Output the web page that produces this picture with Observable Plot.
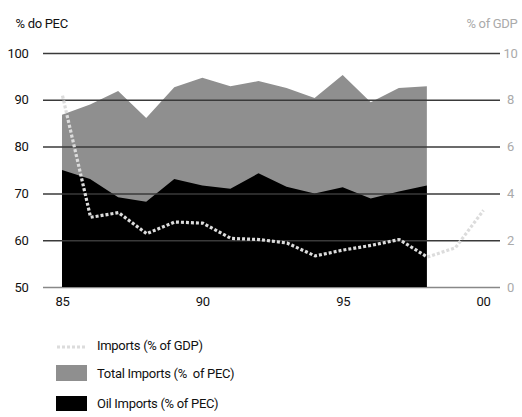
<!DOCTYPE html>
<html><head><meta charset="utf-8">
<script src="https://cdn.jsdelivr.net/npm/d3@7"></script>
<script src="https://cdn.jsdelivr.net/npm/@observablehq/plot@0.6"></script>
<style>
body{margin:0;background:#fff;font-family:Roboto,"Liberation Sans",sans-serif;}
#wrap{position:relative;width:522px;height:417px;}
#chart{position:absolute;left:0;top:0;}
#chart svg text{letter-spacing:-0.3px;}
.leg{position:absolute;left:0;font-size:13px;color:#111;letter-spacing:-0.3px;}
.leg span{position:absolute;left:97px;white-space:pre;line-height:16px;}
.sw{position:absolute;left:56px;width:31px;}
</style></head>
<body>
<div id="wrap">
<div id="chart"></div>
<div class="leg" style="top:337px"><svg class="sw" width="31" height="20" style="top:0"><line x1="1" x2="30" y1="10" y2="10" stroke="#dcdcdc" stroke-width="3" stroke-dasharray="3,2"/></svg><span style="top:1px">Imports (% of GDP)</span></div>
<div class="leg" style="top:365px"><div class="sw" style="top:0;height:16px;background:#8f8f8f"></div><span style="top:1px">Total Imports (%  of PEC)</span></div>
<div class="leg" style="top:396px"><div class="sw" style="top:0;height:15px;background:#000"></div><span style="top:0px">Oil Imports (% of PEC)</span></div>
</div>
<script>
const years = [1985,1986,1987,1988,1989,1990,1991,1992,1993,1994,1995,1996,1997,1998];
const totalImports = [86.8,89.0,91.9,86.1,92.7,94.7,92.9,94.0,92.5,90.4,95.3,89.5,92.5,92.9];
const oilImports = [75.0,73.1,69.2,68.2,73.1,71.7,71.0,74.3,71.4,70.0,71.3,68.9,70.4,71.7];
const gdpYears = [1985,1986,1987,1988,1989,1990,1991,1992,1993,1994,1995,1996,1997,1998,1999,2000];
const gdpImports = [8.2,3.0,3.2,2.3,2.8,2.75,2.1,2.05,1.9,1.35,1.6,1.8,2.05,1.3,1.7,3.3];
const leftTicks = [50,60,70,80,90,100];
const xTicks = [1985,1990,1995,2000];

const pec = years.map((y,i)=>({year:y,total:totalImports[i],oil:oilImports[i]}));
const gdp = gdpYears.map((y,i)=>({year:y,v:gdpImports[i]}));
const toLeft = v => 50 + v*5;

const font = 'Roboto,"Liberation Sans",sans-serif';
const chart = Plot.plot({
  width:522, height:315,
  marginLeft:43, marginRight:22, marginTop:53, marginBottom:28,
  style:{fontFamily:font,fontSize:"13px",background:"#fff",color:"#111"},
  x:{domain:[1984.323,2000.606]},
  y:{domain:[50,100]},
  marks:[
    Plot.ruleY([50],{stroke:"#888",strokeWidth:1.5}),
    Plot.areaY(pec,{x:"year",y1:50,y2:"total",fill:"#8f8f8f"}),
    Plot.areaY(pec,{x:"year",y1:50,y2:"oil",fill:"#000"}),
    Plot.ruleY(leftTicks.slice(1),{stroke:"#3a3a3a",strokeWidth:1.5}),
    Plot.lineY(gdp,{x:"year",y:d=>toLeft(d.v),stroke:"#dcdcdc",strokeWidth:3.2,strokeDasharray:"3,2",strokeLinecap:"butt",strokeLinejoin:"miter"}),
    Plot.axisY(leftTicks,{anchor:"left",tickSize:0,tickPadding:15,label:null,fill:"#111"}),
    Plot.axisY(leftTicks,{anchor:"right",tickSize:0,tickPadding:10,textAnchor:"middle",label:null,fill:"#aaa",tickFormat:d=>String((d-50)/5)}),
    Plot.axisX(xTicks,{anchor:"bottom",tickSize:0,tickPadding:9,label:null,fill:"#111",tickFormat:d=>String(d%100).padStart(2,"0")}),
    Plot.text(["% do PEC"],{frameAnchor:"top-left",dx:-28,dy:-35,textAnchor:"start",fill:"#111"}),
    Plot.text(["% of GDP"],{frameAnchor:"top-right",dx:17,dy:-35,textAnchor:"end",fill:"#aaa"})
  ]
});
document.getElementById("chart").appendChild(chart);
</script>
</body></html>
